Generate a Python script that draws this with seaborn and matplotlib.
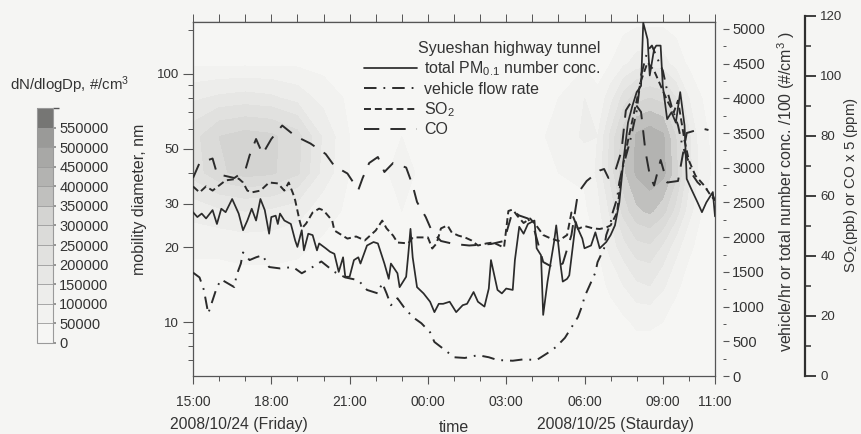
import numpy as np
import pandas as pd
import matplotlib
matplotlib.use("Agg")
import matplotlib.pyplot as plt
import matplotlib.dates as mdates
from matplotlib.colors import ListedColormap, BoundaryNorm
from matplotlib.ticker import (FixedLocator, FixedFormatter, NullFormatter,
                               MultipleLocator, StrMethodFormatter)
import seaborn as sns

# ---------------------------------------------------------------- data
START = "2008-10-24 15:00"

# total PM0.1 number concentration (divided by 100, #/cm3); minutes after 15:00
pm_minutes = [0, 10, 20, 30, 45, 55, 65, 75, 90, 105, 115, 125, 135, 145, 155, 165, 175, 180,
              190, 195, 200, 210, 225, 235, 240, 250, 255, 265, 275, 285, 290, 305, 315, 325,
              335, 345, 350, 360, 370, 380, 385, 400, 415, 425, 440, 450, 455, 470, 475, 490,
              495, 500, 505, 515, 530, 545, 555, 565, 575, 590, 605, 620, 630, 645, 655, 670,
              680, 685, 700, 710, 720, 735, 740, 750, 760, 770, 785, 790, 800, 805, 815, 820,
              830, 835, 845, 850, 860, 865, 880, 885, 895, 900, 915, 925, 935, 950, 960, 970,
              980, 990, 1000, 1010, 1020, 1030, 1035, 1045, 1050, 1060, 1065, 1075, 1080, 1090,
              1100, 1110, 1120, 1130, 1135, 1145, 1160, 1170, 1180, 1195, 1200]
pm_total_per100 = [2360, 2290, 2340, 2270, 2390, 2190, 2410, 2360, 2550, 2340, 2100, 2240, 2410,
                   2240, 2550, 2390, 2050, 2290, 2310, 2190, 2340, 2240, 2190, 1950, 1860, 2100,
                   1810, 2050, 2030, 1810, 1910, 1840, 1790, 1760, 1500, 1710, 1430, 1430, 1670,
                   1710, 1620, 1880, 1930, 1910, 1620, 1400, 1620, 1480, 1280, 1430, 1760, 2120,
                   1710, 1280, 1190, 1070, 920, 1040, 1040, 1070, 920, 1020, 1040, 1210, 1070,
                   1000, 1260, 1670, 1240, 1190, 1260, 1240, 1670, 2150, 2050, 2190, 2240, 1840,
                   1740, 880, 1360, 1550, 1930, 2170, 1600, 1360, 1400, 1450, 2220, 2120, 1980,
                   1840, 1880, 2070, 1840, 1930, 2030, 2170, 2500, 3130, 3650, 3890, 4090, 4180,
                   5090, 4850, 4330, 4710, 4760, 4760, 4180, 3700, 3800, 3650, 4090, 3610, 2840,
                   2700, 2500, 2360, 2500, 2650, 2300]

# vehicle flow rate (vehicles/hr)
veh_minutes = [0, 15, 25, 35, 55, 65, 95, 100, 110, 115, 130, 145, 160, 175, 200, 230, 250, 270,
               295, 325, 350, 380, 400, 425, 435, 445, 455, 470, 485, 505, 525, 545, 555, 580,
               600, 625, 655, 680, 700, 735, 760, 790, 815, 835, 855, 870, 885, 895, 900, 915,
               925, 930, 945, 950, 960, 965, 975, 980, 985, 1005, 1020, 1030, 1045, 1055, 1065,
               1080, 1090, 1100, 1115, 1125, 1140, 1145, 1160, 1175, 1190, 1200]
veh_flow = [1490, 1420, 1240, 900, 1280, 1390, 1280, 1450, 1620, 1780, 1670, 1710, 1740, 1570,
            1550, 1570, 1480, 1550, 1650, 1500, 1420, 1380, 1240, 1190, 1340, 1190, 1020, 1120,
            990, 850, 760, 630, 490, 370, 270, 260, 300, 270, 230, 220, 240, 230, 330, 420, 550,
            700, 850, 1020, 1140, 1350, 1490, 1640, 1840, 2030, 2210, 2360, 2560, 2790, 2930,
            3390, 3820, 4330, 4690, 4760, 4610, 4400, 4110, 3890, 3610, 3320, 3080, 2930, 2790,
            2700, 2670, 2530]

# SO2 (ppb)
so2_minutes = [0, 15, 30, 45, 75, 105, 115, 125, 135, 155, 175, 195, 210, 220, 230, 235, 245,
               250, 260, 275, 290, 300, 310, 320, 325, 355, 375, 395, 420, 435, 445, 460, 470,
               495, 505, 540, 550, 560, 570, 585, 595, 610, 625, 640, 655, 675, 690, 715, 725,
               735, 745, 760, 775, 790, 805, 820, 840, 860, 870, 885, 900, 920, 935, 950, 960,
               975, 985, 1000, 1015, 1030, 1045, 1060, 1075, 1090, 1105, 1115, 1130, 1140, 1155,
               1175, 1190, 1200]
so2_ppb = [63.2, 61.2, 63.2, 61.8, 65.2, 65.8, 64.5, 61.8, 61.2, 61.8, 64.5, 64.2, 61.8, 64.5,
           60.8, 58.5, 51.8, 49.2, 50.8, 54.5, 55.8, 55.2, 53.5, 51.8, 48.5, 45.8, 46.5, 45.2,
           48.5, 51.8, 49.2, 46.8, 44.5, 44.2, 46.2, 46.2, 42.5, 44.2, 49.2, 50.2, 47.8, 46.8,
           46.2, 45.2, 43.5, 44.2, 44.5, 42.8, 55.0, 55.5, 53.5, 51.0, 52.5, 50.0, 47.0, 46.0,
           45.0, 47.0, 54.5, 49.0, 50.0, 49.2, 49.0, 49.5, 50.2, 54.5, 67.8, 78.5, 88.5, 98.5,
           104.5, 101.8, 96.8, 91.8, 87.8, 91.8, 78.5, 71.8, 66.8, 63.5, 60.2, 58.5]

# CO (ppm), drawn multiplied by 5
co_minutes = [0, 15, 45, 55, 65, 95, 120, 130, 145, 160, 180, 205, 235, 270, 305, 325, 355, 380,
              390, 405, 425, 440, 460, 490, 505, 515, 535, 550, 570, 600, 635, 685, 715, 735,
              750, 770, 785, 805, 830, 850, 870, 885, 905, 935, 945, 955, 970, 985, 995, 1010,
              1030, 1040, 1050, 1060, 1075, 1090, 1115, 1135, 1170, 1185]
co_ppm = [13.2, 14.2, 14.5, 13.5, 13.4, 13.2, 13.7, 14.7, 15.8, 14.8, 15.8, 16.7, 16.0, 15.5,
          14.8, 14.0, 13.5, 12.4, 13.2, 14.2, 14.6, 13.6, 14.2, 13.9, 12.7, 11.6, 10.6, 9.6,
          9.0, 8.8, 8.7, 8.8, 9.0, 11.0, 10.7, 10.5, 9.7, 7.6, 7.2, 7.5, 9.4, 12.2, 13.0, 13.7,
          13.8, 13.2, 13.6, 15.0, 17.7, 18.4, 17.6, 15.0, 13.4, 12.7, 14.4, 12.9, 13.0, 16.2,
          16.5, 16.4]

# particle size distribution dN/dlogDp (thousand #/cm3), hours after 15:00 x diameter (nm)
psd_hours = [0, 1, 2, 3, 4, 5, 6, 7, 8, 9, 10, 11, 12, 13, 14, 15,
             15.5, 16, 16.5, 17, 17.5, 18, 18.5, 19, 19.5, 20]
psd_diam_nm = [7, 10, 14, 20, 28, 40, 56, 80, 110, 160]
psd_k = [
    [10, 10, 10, 10, 10, 10, 10, 10, 10, 10, 10, 10, 10, 10, 10, 10, 10, 10, 20, 20, 20, 20, 10, 10, 10, 10],
    [20, 20, 20, 20, 20, 20, 20, 20, 20, 20, 20, 20, 20, 20, 20, 20, 20, 30, 40, 60, 60, 50, 30, 20, 20, 20],
    [30, 30, 30, 30, 30, 20, 20, 20, 20, 20, 20, 20, 20, 20, 20, 20, 30, 60, 100, 140, 150, 110, 60, 30, 20, 20],
    [60, 60, 70, 70, 60, 40, 30, 30, 30, 20, 20, 20, 20, 20, 30, 30, 50, 120, 180, 230, 240, 190, 120, 60, 30, 20],
    [120, 140, 150, 140, 120, 70, 40, 40, 50, 30, 30, 30, 30, 30, 40, 40, 80, 160, 270, 340, 360, 320, 230, 120, 50, 30],
    [220, 290, 320, 310, 260, 130, 50, 40, 60, 40, 30, 30, 30, 40, 50, 60, 110, 220, 340, 410, 440, 420, 320, 170, 70, 40],
    [230, 300, 320, 310, 270, 140, 50, 40, 50, 40, 30, 30, 30, 40, 60, 110, 100, 210, 330, 410, 430, 410, 300, 160, 60, 40],
    [140, 160, 170, 160, 130, 80, 40, 30, 30, 30, 30, 30, 30, 40, 50, 100, 60, 130, 220, 280, 300, 280, 200, 100, 50, 30],
    [40, 40, 40, 40, 40, 30, 20, 20, 20, 20, 20, 20, 20, 30, 30, 40, 30, 50, 90, 120, 130, 120, 80, 40, 30, 20],
    [10, 10, 10, 10, 10, 10, 10, 10, 10, 10, 10, 10, 10, 10, 10, 10, 10, 20, 30, 40, 40, 40, 30, 20, 10, 10],
]

psd_levels = list(range(0, 650000, 50000))
psd_grays = ["#f6f6f4", "#f2f2f0", "#ededeb", "#e7e7e5", "#e1e1df", "#dbdbd9", "#d4d4d2",
             "#c0c0be", "#b3b3b1", "#a8a8a6", "#9a9a98", "#767674"]

time_tick_hours = [0, 3, 6, 9, 12, 15, 18, 20]
time_tick_labels = ["15:00", "18:00", "21:00", "00:00", "03:00", "06:00", "09:00", "11:00"]
diam_ticks = [10, 20, 30, 50, 100]

series_labels = [r"total PM$_{0.1}$ number conc.", "vehicle flow rate", r"SO$_2$", "CO"]

# ---------------------------------------------------------------- style
ink = "#333333"
edge = "#555555"
bg = "#f5f5f3"

sns.set_theme(style="ticks", rc={"figure.facecolor": bg, "axes.facecolor": bg})
plt.rcParams.update({
    "font.family": ["Liberation Sans", "DejaVu Sans"],
    "mathtext.fontset": "custom",
    "mathtext.rm": "Liberation Sans",
    "mathtext.it": "Liberation Sans:italic",
    "mathtext.bf": "Liberation Sans:bold",
    "lines.scale_dashes": False,
    "text.color": ink,
    "axes.labelcolor": ink,
    "xtick.color": edge,
    "ytick.color": edge,
    "xtick.labelcolor": ink,
    "ytick.labelcolor": ink,
    "axes.edgecolor": edge,
    "axes.linewidth": 0.9,
})

W, H = 862, 434
fig = plt.figure(figsize=(W / 100, H / 100), dpi=100, facecolor=bg)


def rect(x0, y0, x1, y1):
    """Figure rectangle from pixel box (left, top, right, bottom)."""
    return [x0 / W, 1 - y1 / H, (x1 - x0) / W, (y1 - y0) / H]


L, T, R, B = 193, 22, 715, 376   # main plotting box
S_TOP = 16                      # top of the SO2 / CO scale

t0 = mdates.date2num(pd.Timestamp(START))


def clock(minutes):
    return t0 + np.asarray(minutes, dtype=float) / 1440.0


# ---------------------------------------------------------------- size distribution
ax = fig.add_axes(rect(L, T, R, B))
ax.set_facecolor(psd_grays[0])
cmap = ListedColormap(psd_grays)
norm = BoundaryNorm(psd_levels, cmap.N)
grid_x = clock(np.asarray(psd_hours) * 60)
cs = ax.contourf(grid_x, psd_diam_nm, np.asarray(psd_k) * 1000.0,
                 levels=psd_levels, cmap=cmap, norm=norm)
ax.set_yscale("log")
ax.set_ylim(6.06, 162)
ax.set_xlim(clock(0), clock(20 * 60))

ax.yaxis.set_major_locator(FixedLocator(diam_ticks))
ax.yaxis.set_major_formatter(FixedFormatter([str(v) for v in diam_ticks]))
ax.yaxis.set_minor_locator(FixedLocator([7, 8, 9, 40, 60, 70, 80, 90, 150]))
ax.yaxis.set_minor_formatter(NullFormatter())
ax.xaxis.set_major_locator(FixedLocator(clock(np.asarray(time_tick_hours) * 60)))
ax.xaxis.set_major_formatter(FixedFormatter(time_tick_labels))
ax.xaxis.set_minor_locator(FixedLocator(clock(np.arange(0, 21) * 60)))
ax.tick_params(axis="x", which="major", length=6, width=0.8, pad=8, labelsize=10)
ax.tick_params(axis="x", which="minor", length=3.5, width=0.7)
ax.tick_params(axis="y", which="major", length=7, width=0.8, pad=3, labelsize=9.5)
ax.tick_params(axis="y", which="minor", length=3.5, width=0.7)

top = ax.secondary_xaxis("top")
top.xaxis.set_major_locator(FixedLocator(clock(np.arange(0, 21) * 60)))
top.xaxis.set_major_formatter(NullFormatter())
top.tick_params(length=6, width=0.7, direction="out")

ax.set_ylabel("mobility diameter, nm", fontsize=11.5)
ax.yaxis.set_label_coords((147 - L) / (R - L), 0.5)
ax.set_xlabel("time", fontsize=11.5)
ax.xaxis.set_label_coords(0.5, (B - 420) / (B - T))

fig.text(170 / W, 1 - 425 / H, "2008/10/24 (Friday)", ha="left", va="center", fontsize=11.3)
fig.text(537 / W, 1 - 425 / H, "2008/10/25 (Staurday)", ha="left", va="center", fontsize=11.3)

# ---------------------------------------------------------------- vehicle / PM axis
ax2 = ax.twinx()
pm_df = pd.DataFrame({"time": clock(pm_minutes), "pm": pm_total_per100})
veh_df = pd.DataFrame({"time": clock(veh_minutes), "veh": veh_flow})
sns.lineplot(data=pm_df, x="time", y="pm", ax=ax2, color="#2b2b2b", linewidth=1.25)
h_pm = ax2.lines[-1]
sns.lineplot(data=veh_df, x="time", y="veh", ax=ax2, color="#2b2b2b", linewidth=1.4,
             dashes=(9, 5, 1.3, 5))
h_veh = ax2.lines[-1]
ax2.set_ylim(0, 5100)
ax2.set_xlim(clock(0), clock(20 * 60))
ax2.yaxis.set_major_locator(MultipleLocator(500))
ax2.yaxis.set_minor_locator(MultipleLocator(250))
for s in ("left", "top", "bottom"):
    ax2.spines[s].set_visible(False)
ax2.spines["right"].set_position(("outward", 6))
ax2.spines["right"].set_visible(False)
ax2.tick_params(axis="y", which="major", length=4.5, width=0.8, pad=2, labelsize=10.5)
ax2.tick_params(axis="y", which="minor", length=2.5, width=0.7)
ax2.set_ylabel("vehicle/hr or total number conc. /100 (#/cm$^3$ )", fontsize=11.5)
ax2.yaxis.set_label_coords((775 - L) / (R - L), (B - 192) / (B - T))

# ---------------------------------------------------------------- SO2 / CO axis
ax_s = ax.twinx()
so2_df = pd.DataFrame({"time": clock(so2_minutes), "so2": so2_ppb})
co_df = pd.DataFrame({"time": clock(co_minutes), "co5": np.asarray(co_ppm) * 5})
sns.lineplot(data=so2_df, x="time", y="so2", ax=ax_s, color="#2b2b2b", linewidth=1.4,
             dashes=(5, 2.8))
h_so2 = ax_s.lines[-1]
sns.lineplot(data=co_df, x="time", y="co5", ax=ax_s, color="#2b2b2b", linewidth=1.4,
             dashes=(11, 8))
h_co = ax_s.lines[-1]
ax_s.set_ylim(0, 120 * (B - T) / (B - S_TOP))
ax_s.set_xlim(clock(0), clock(20 * 60))
ax_s.set_axis_off()

ax3 = fig.add_axes(rect(700, S_TOP, 805, B))
ax3.patch.set_visible(False)
for s in ("left", "top", "bottom"):
    ax3.spines[s].set_visible(False)
ax3.spines["right"].set_linewidth(1.6)
ax3.spines["right"].set_color("#2f2f2f")
ax3.xaxis.set_visible(False)
ax3.yaxis.tick_right()
ax3.yaxis.set_label_position("right")
ax3.set_ylim(0, 120)
ax3.yaxis.set_major_locator(MultipleLocator(20))
ax3.yaxis.set_minor_locator(MultipleLocator(10))
ax3.tick_params(axis="y", which="major", length=8, width=1.3, pad=3, labelsize=9.5,
                color="#2f2f2f")
ax3.tick_params(axis="y", which="minor", length=4.5, width=1.1, color="#2f2f2f")
ax3.set_ylabel("SO$_2$(ppb) or CO x 5 (ppm)", fontsize=10.8)
ax3.yaxis.set_label_coords((842 - 700) / (805 - 700), (B - 185) / (B - S_TOP))

leg = ax_s.legend([h_pm, h_veh, h_so2, h_co], series_labels,
                  title="Syueshan highway tunnel", loc="upper left",
                  bbox_to_anchor=((364 - L) / (R - L), (B - 41) / (B - T)),
                  frameon=False, fontsize=11.5, title_fontsize=11.5,
                  handlelength=3.3, handletextpad=0.45, labelspacing=0.22,
                  borderpad=0, borderaxespad=0, alignment="right")

# ---------------------------------------------------------------- colour bar
cax = fig.add_axes(rect(37, 108, 53, 343))
cb = fig.colorbar(cs, cax=cax, ticks=psd_levels[:-1], drawedges=True)
cb.outline.set_edgecolor("#9a9a9a")
cb.outline.set_linewidth(0.8)
cb.dividers.set_color("#9a9a9a")
cb.dividers.set_linewidth(0.6)
cax.yaxis.set_major_formatter(StrMethodFormatter("{x:.0f}"))
cax.tick_params(length=2.5, pad=2, labelsize=10.5, color="#8a8a8a")
fig.text(10 / W, 1 - 85 / H, "dN/dlogDp, #/cm$^3$", ha="left", va="center", fontsize=10.8)

fig.savefig("out.png", dpi=100, facecolor=bg)
